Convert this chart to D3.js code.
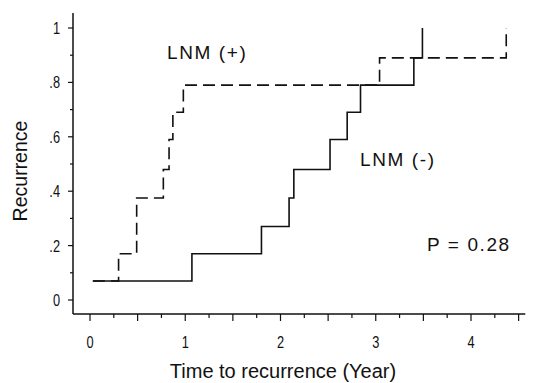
<!DOCTYPE html>
<html>
<head>
<meta charset="utf-8">
<script src="https://cdn.jsdelivr.net/npm/d3@7"></script>
<style>
  body { margin: 0; background: #fff; }
  svg text { font-family: "Liberation Sans", Arial, sans-serif; fill: #111; }
</style>
</head>
<body>
<div id="chart"></div>
<script>
// step points [time (years), recurrence]
var lnmPosTimes  = [0.03, 0.30, 0.49, 0.77, 0.83, 0.87, 0.98, 3.04, 4.37];
var lnmPosLevels = [0.07, 0.17, 0.375, 0.48, 0.59, 0.69, 0.79, 0.89, 1.0];
var lnmNegTimes  = [0.03, 1.07, 1.80, 2.09, 2.14, 2.52, 2.70, 2.84, 3.40, 3.49];
var lnmNegLevels = [0.07, 0.17, 0.27, 0.375, 0.48, 0.59, 0.69, 0.79, 0.89, 1.0];
var lnmPosEnd = 4.37, lnmNegEnd = 3.49;

var xTickLabels = [0, 1, 2, 3, 4];
var yTickValues = [0, 0.2, 0.4, 0.6, 0.8, 1];
var yTickLabels = ["0", ".2", ".4", ".6", ".8", "1"];

var w = 533, h = 383;

var x = d3.scaleLinear().domain([0, 4]).range([90, 471]),
    y = d3.scaleLinear().domain([0, 1]).range([300, 28]);

var axisY = 314, axisX = 73;

var svg = d3.select("#chart").append("svg")
    .attr("width", w)
    .attr("height", h);

/* axes */
svg.append("line")
  .attr("x1", axisX).attr("x2", axisX)
  .attr("y1", y(1.055)).attr("y2", axisY)
  .style("stroke", "#111").style("stroke-width", 1.5);

svg.append("line")
  .attr("x1", axisX).attr("x2", x(4.57))
  .attr("y1", axisY).attr("y2", axisY)
  .style("stroke", "#111").style("stroke-width", 1.5);

// x ticks every 0.25, longer on the halves
var xticks = d3.range(0, 4.51, 0.25);
svg.selectAll(".xtick")
  .data(xticks)
  .enter().append("line")
    .attr("class", "xtick")
    .attr("x1", x).attr("x2", x)
    .attr("y1", axisY)
    .attr("y2", function(d){ return axisY + (Math.abs(d*2 - Math.round(d*2)) < 1e-6 ? 7 : 4); })
    .style("stroke", "#111").style("stroke-width", 1.2);

svg.selectAll(".xlabel")
  .data(xTickLabels)
  .enter().append("text")
    .attr("class", "xlabel")
    .attr("x", x)
    .attr("y", 348)
    .attr("text-anchor", "middle")
    .attr("transform", function(d){ return "translate(" + x(d) + ",0) scale(0.8,1) translate(" + (-x(d)) + ",0)"; })
    .style("font-size", "16px")
    .text(function(d){ return d; });

// y ticks every 0.1, longer on the labelled ones
var yticks = d3.range(0, 1.001, 0.1);
svg.selectAll(".ytick")
  .data(yticks)
  .enter().append("line")
    .attr("class", "ytick")
    .attr("x1", function(d){ return axisX - (Math.round(d*10) % 2 === 0 ? 5 : 3); })
    .attr("x2", axisX)
    .attr("y1", y).attr("y2", y)
    .style("stroke", "#111").style("stroke-width", 1.2);

svg.selectAll(".ylabel")
  .data(yTickValues)
  .enter().append("text")
    .attr("class", "ylabel")
    .attr("x", 60)
    .attr("y", function(d){ return y(d) + 6; })
    .attr("text-anchor", "end")
    .attr("transform", "translate(60,0) scale(0.8,1) translate(-60,0)")
    .style("font-size", "16px")
    .text(function(d,i){ return yTickLabels[i]; });

/* axis titles */
svg.append("text")
  .attr("x", 283).attr("y", 378)
  .attr("text-anchor", "middle")
  .style("font-size", "20px")
  .text("Time to recurrence (Year)");

svg.append("text")
  .attr("transform", "translate(27,171) rotate(-90)")
  .attr("text-anchor", "middle")
  .style("font-size", "19.5px")
  .text("Recurrence");

/* step curves */
function stepPoints(times, levels, end) {
  var pts = times.map(function(t, i){ return [t, levels[i]]; });
  pts.push([end, levels[levels.length - 1]]);
  return pts;
}

var line = d3.line()
  .x(function(d){ return x(d[0]); })
  .y(function(d){ return y(d[1]); })
  .curve(d3.curveStepAfter);

svg.append("path")
  .datum(stepPoints(lnmNegTimes, lnmNegLevels, lnmNegEnd))
  .attr("d", line)
  .style("fill", "none")
  .style("stroke", "#111")
  .style("stroke-width", 1.6);

svg.append("path")
  .datum(stepPoints(lnmPosTimes, lnmPosLevels, lnmPosEnd))
  .attr("d", line)
  .style("fill", "none")
  .style("stroke", "#111")
  .style("stroke-width", 1.6)
  .style("stroke-dasharray", "12,6");

/* annotations */
svg.selectAll(".note")
  .data([["LNM (+)", 167, 59], ["LNM (-)", 360, 166], ["P = 0.28", 427, 251]])
  .enter().append("text")
    .attr("class", "note")
    .attr("x", function(d){ return d[1]; })
    .attr("y", function(d){ return d[2]; })
    .style("font-size", "19px")
    .style("letter-spacing", "1.6px")
    .text(function(d){ return d[0]; });
</script>
</body>
</html>
